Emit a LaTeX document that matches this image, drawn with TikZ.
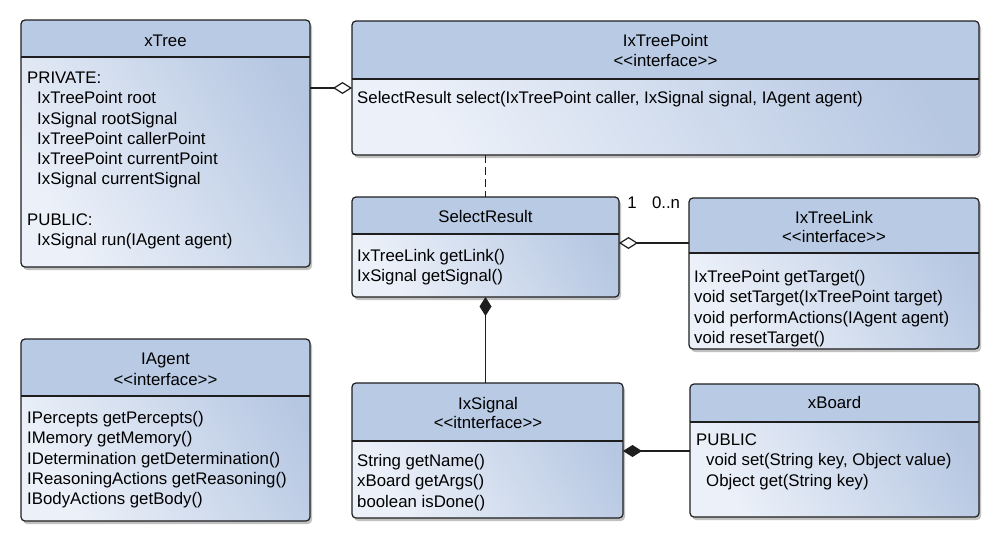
\documentclass[tikz,border=0pt]{standalone}
\usepackage{fontspec}
\setmainfont{Liberation Sans}
\usetikzlibrary{arrows.meta,shadows,fit}
\definecolor{headcol}{RGB}{185,202,228}
\definecolor{bodyL}{RGB}{236,241,249}
\definecolor{bodyR}{RGB}{182,199,226}
\definecolor{linecol}{RGB}{30,30,30}
\tikzset{
  classbox/.style={inner sep=0pt, outer sep=0pt, rounded corners=4pt,
    left color=bodyL, right color=bodyR, shading angle=120,
    drop shadow={shadow xshift=2pt, shadow yshift=-3pt, opacity=0.35, fill=black!70}},
  boxline/.style={line width=1.2pt, draw=linecol},
  title/.style={anchor=base, inner sep=0pt},
  body/.style={anchor=north west, align=left, inner sep=0pt},
  conn/.style={line width=1.2pt, draw=linecol},
  aggr/.style={conn, -{Diamond[length=19pt,width=12pt,fill=white]}},
  comp/.style={conn, -{Diamond[length=19pt,width=12pt,fill=linecol]}},
  dep/.style={conn, dash pattern=on 8pt off 4pt},
  mult/.style={anchor=base, inner sep=0pt}
}
\newcommand\mkumlbox[6]{%
  \node[classbox, fit={(#2,#3) (#4,#5)}] (#1) {};
  \begin{scope}
    \clip[rounded corners=4pt] (#1.north west) rectangle (#1.south east);
    \fill[headcol] (#1.north west) rectangle (#4,#6);
  \end{scope}
  \draw[boxline, rounded corners=4pt] (#1.north west) rectangle (#1.south east);
  \draw[boxline] (#2,#6) -- (#4,#6);
}
\begin{document}
\begin{tikzpicture}[x=1pt, y=-1pt, font=\fontsize{16.8}{20.2}\selectfont]
\useasboundingbox (0,0) rectangle (1000,541);

% boxes
\mkumlbox{xtree}{21}{20}{310}{267}{57}
\mkumlbox{ltp}{352}{21}{979}{155}{79}
\mkumlbox{sr}{352}{197}{619}{297}{234}
\mkumlbox{ltl}{689}{198}{979}{349}{253}
\mkumlbox{ia}{21}{339}{310}{521}{396}
\mkumlbox{sig}{352}{383}{623}{518}{441}
\mkumlbox{xb}{690}{384}{979}{517}{422}

% xTree
\node[title] (xtreeT) at (165.5,46.5) {xTree};
\node[body] (xtreeB) at (27,69.4) {\strut PRIVATE:\\
\hspace*{10pt}IxTreePoint root\\
\hspace*{10pt}IxSignal rootSignal\\
\hspace*{10pt}IxTreePoint callerPoint\\
\hspace*{10pt}IxTreePoint currentPoint\\
\hspace*{10pt}IxSignal currentSignal\\[20.2pt]
PUBLIC:\\
\hspace*{10pt}IxSignal run(IAgent agent)};

% IxTreePoint
\node[title] (ltpT) at (665.5,46.5) {IxTreePoint};
\node[title] (ltpS) at (665.5,66.5) {<{}<interface>{}>};
\node[body] (ltpB) at (357,89.4) {\strut SelectResult select(IxTreePoint caller, IxSignal signal, IAgent agent)};

% SelectResult
\node[title] (srT) at (485.5,222.5) {SelectResult};
\node[body] (srB) at (357,247.4) {\strut IxTreeLink getLink()\\IxSignal getSignal()};

% IxTreeLink
\node[title] (ltlT) at (834,223.5) {IxTreeLink};
\node[title] (ltlS) at (834,242.5) {<{}<interface>{}>};
\node[body] (ltlB) at (694,268.4) {\strut IxTreePoint getTarget()\\
void setTarget(IxTreePoint target)\\
void performActions(IAgent agent)\\
void resetTarget()};

% IAgent
\node[title] (iaT) at (165.5,364.5) {IAgent};
\node[title] (iaS) at (165.5,385.5) {<{}<interface>{}>};
\node[body] (iaB) at (27,409.4) {\strut IPercepts getPercepts()\\
IMemory getMemory()\\
IDetermination getDetermination()\\
IReasoningActions getReasoning()\\
IBodyActions getBody()};

% IxSignal
\node[title] (sigT) at (488,409.5) {IxSignal};
\node[title] (sigS) at (488,428.5) {<{}<itnterface>{}>};
\node[body] (sigB) at (357,452.4) {\strut String getName()\\
xBoard getArgs()\\
boolean isDone()};

% xBoard
\node[title] (xbT) at (834.5,408.5) {xBoard};
\node[body] (xbB) at (696,431.4) {\strut PUBLIC\\
\hspace*{10pt}void set(String key, Object value)\\
\hspace*{10pt}Object get(String key)};

% connectors
\draw[aggr] (xtree.east |- 0,88) -- (ltp.west |- 0,88);
\draw[dep] (sr.north |- ltp.south) -- (sr.north);
\draw[aggr] (ltl.west |- 0,243) -- (sr.east |- 0,243);
\draw[comp] (sig.north -| sr.south) -- (sr.south);
\draw[comp] (xb.west |- 0,451) -- (sig.east |- 0,451);

% multiplicities
\node[mult] (m1) at (632,208.5) {1};
\node[mult] (m2) at (666,208.5) {0..n};
\end{tikzpicture}
\end{document}
